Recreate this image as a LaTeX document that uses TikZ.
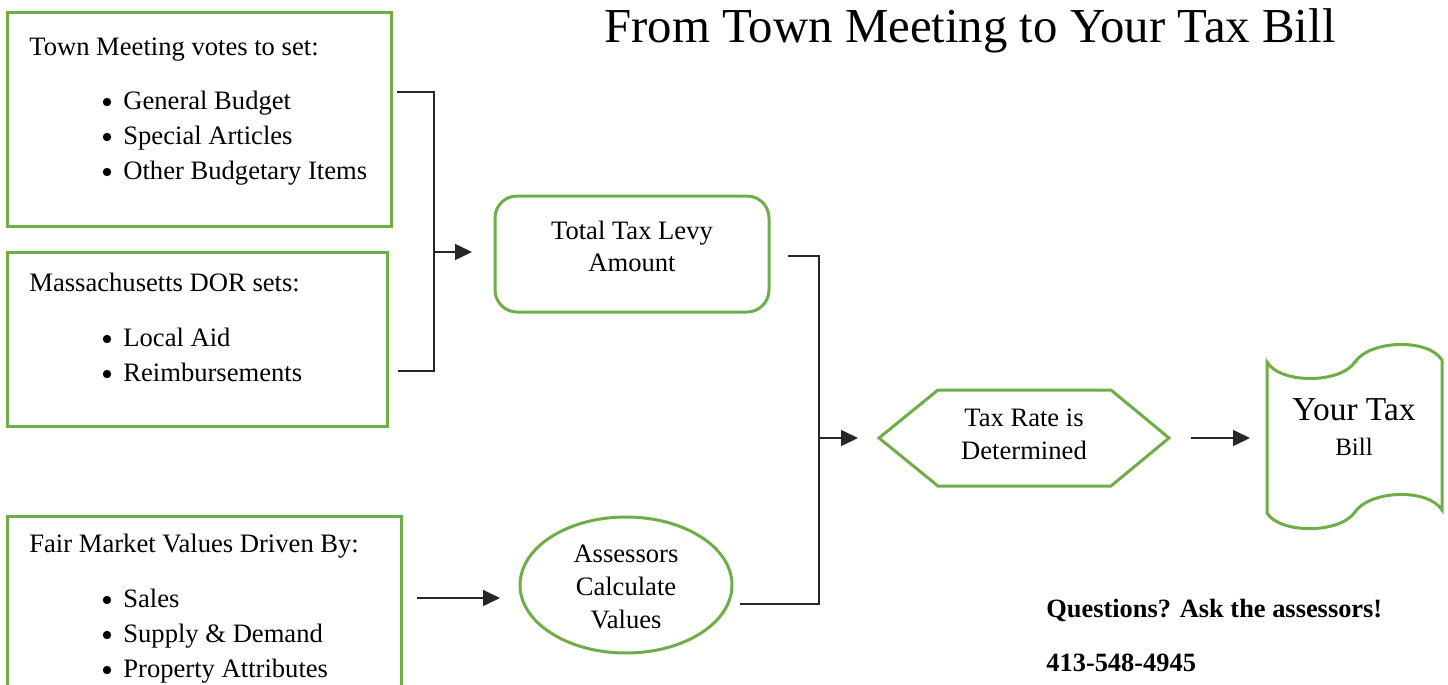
\documentclass[tikz,border=0pt]{standalone}
\usepackage{fontspec}
\setmainfont{Liberation Serif}
\usetikzlibrary{arrows.meta,shapes.geometric}
\definecolor{boxgreen}{HTML}{70AD47}
\definecolor{linegray}{HTML}{262626}
\tikzset{
  gbox/.style={draw=boxgreen, line width=1.5pt},
  conn/.style={draw=linegray, line width=0.75pt},
  arr/.style={conn, -{Triangle[length=8.5pt,width=8pt]}},
  txt/.style={inner sep=0pt, anchor=base west, font=\fontsize{13.3}{15}\selectfont},
  bul/.style={circle, fill=black, inner sep=0pt, minimum size=4.2pt}
}
\begin{document}
\begin{tikzpicture}[x=0.5pt,y=-0.5pt]
\useasboundingbox (0,0) rectangle (1448,685);
\clip (0,0) rectangle (1448,685);
\fill[white] (0,0) rectangle (1448,685);

% title
\node[inner sep=0pt, anchor=base, font=\fontsize{24.4}{28}\selectfont] (title) at (970,42) {From Town Meeting to Your Tax Bill};

% box 1
\node[gbox, minimum width=192pt, minimum height=107pt, inner sep=0pt] (box1) at (199,119) {};
\node[txt] (b1t) at (29,55) {Town Meeting votes to set:};
\node[bul] (b1a) at (107,102) {};
\node[txt] (b1at) at (123,109) {General Budget};
\node[bul] (b1b) at (107,137) {};
\node[txt] (b1bt) at (123,144) {Special Articles};
\node[bul] (b1c) at (107,172) {};
\node[txt] (b1ct) at (123,179) {Other Budgetary Items};

% box 2
\node[gbox, minimum width=190pt, minimum height=87pt, inner sep=0pt] (box2) at (197,339) {};
\node[txt] (b2t) at (29,291) {Massachusetts DOR sets:};
\node[bul] (b2a) at (107,339) {};
\node[txt] (b2at) at (123,346) {Local Aid};
\node[bul] (b2b) at (107,374) {};
\node[txt] (b2bt) at (123,381) {Reimbursements};

% box 3 (runs off the bottom)
\node[gbox, minimum width=197pt, minimum height=100pt, inner sep=0pt] (box3) at (204,616) {};
\node[txt] (b3t) at (29,552) {Fair Market Values Driven By:};
\node[bul] (b3a) at (107,600) {};
\node[txt] (b3at) at (123,607) {Sales};
\node[bul] (b3b) at (107,635) {};
\node[txt] (b3bt) at (123,642) {Supply \& Demand};
\node[bul] (b3c) at (107,670) {};
\node[txt] (b3ct) at (123,677) {Property Attributes};

% total tax levy
\node[gbox, rounded corners=11pt, minimum width=137pt, minimum height=58pt, inner sep=0pt] (levy) at (632,254) {};
\node[inner sep=0pt, align=center, font=\fontsize{13.3}{16}\selectfont] (levyt) at (632,246) {Total Tax Levy\\Amount};

% assessors ellipse
\node[gbox, ellipse, minimum width=106pt, minimum height=68pt, inner sep=0pt] (assess) at (626,585) {};
\node[inner sep=0pt, align=center, font=\fontsize{13.3}{16.5}\selectfont] (assesst) at (626,587) {Assessors\\Calculate\\Values};

% hexagon
\draw[gbox] (879,438) -- (938,390) -- (1111,390) -- (1169,438) -- (1111,486) -- (938,486) -- cycle;
\node[inner sep=0pt, align=center, font=\fontsize{13.3}{16.5}\selectfont] (rate) at (1024,434) {Tax Rate is\\Determined};

% scroll / punched tape
\draw[gbox] (1267,362) .. controls (1280,384) and (1340,384) .. (1355,362)
  .. controls (1370,340) and (1428,338) .. (1442,360)
  -- (1442,510)
  .. controls (1428,488) and (1370,490) .. (1355,512)
  .. controls (1340,534) and (1280,534) .. (1267,513) -- cycle;
\node[inner sep=0pt, anchor=base, font=\fontsize{16.7}{18}\selectfont] (bill1) at (1354,420) {Your Tax};
\node[inner sep=0pt, anchor=base, font=\fontsize{12.5}{14}\selectfont] (bill2) at (1354,455) {Bill};
\coordinate (billw) at (1250,438);

% questions
\node[txt, font=\fontsize{13.2}{15}\selectfont\bfseries] (q1) at (1046,617) {Questions? Ask the assessors!};
\node[txt, font=\fontsize{13.2}{15}\selectfont\bfseries] (q2) at (1046,671) {413-548-4945};

% connectors
\coordinate (t1) at (397,92);
\coordinate (t2) at (398,371);
\coordinate (j1) at (434,252);
\coordinate (j1e) at (472,252);
\draw[conn] (t1) -| (j1) |- (t2);
\draw[arr] (j1) -- (j1e);

\coordinate (u1) at (788,256);
\coordinate (u2) at (740,604);
\coordinate (j2) at (819,438);
\coordinate (j2e) at (858,438);
\draw[conn] (u1) -| (j2) |- (u2);
\draw[arr] (j2) -- (j2e);

\coordinate (f1) at (417,598);
\coordinate (f2) at (500,598);
\draw[arr] (f1) -- (f2);

\coordinate (r1) at (1191,438);
\draw[arr] (r1) -- (billw);
\end{tikzpicture}
\end{document}
